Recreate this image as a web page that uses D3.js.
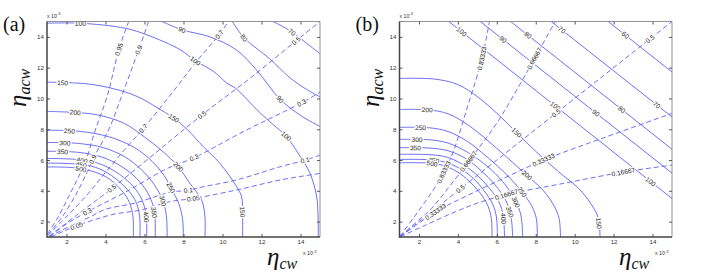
<!DOCTYPE html>
<html>
<head>
<meta charset="utf-8">
<script src="https://cdn.jsdelivr.net/npm/d3@7"></script>
<style>
  body { margin: 0; background: #fff; }
  svg { display: block; }
</style>
</head>
<body>
<svg id="chart" width="708" height="274"></svg>
<script>
// ---------- data (units of 1e-3) ----------
const xTicks = [2, 4, 6, 8, 10, 12, 14];
const yTicks = [2, 4, 6, 8, 10, 12, 14];
const panelTags = ['(a)', '(b)'];

// panel (a): solid contours
const solidA = [
  {level: 70, pts: [[12.6,15],[13.5,14.37],[14.3,13.6],[15,12.9]]},
  {level: 80, pts: [[10.5,15],[11.1,13.94],[11.8,13.2],[12.4,12.6],[13.5,11.3],[14.3,10.6],[15,10.1]]},
  {level: 90, pts: [[6.9,15],[7.92,14.46],[9.36,14.0],[10.73,13.14],[11.75,11.84],[12.95,9.95],[14.0,8.9],[15,8.18]]},
  {level: 100, pts: [[1,14.89],[2.71,14.89],[5.02,14.56],[6.13,14.13],[7.84,13.16],[8.61,12.44],[9.55,11.75],[10.23,10.99],[10.66,10.67],[11.9,9.1],[12.6,8.3],[13.26,7.55],[13.9,6.4],[14.49,5.13],[14.83,3.61],[14.9,2.3],[14.91,1]]},
  {level: 150, pts: [[1,11.06],[3.05,10.95],[4.42,10.63],[5.62,10.13],[6.64,9.41],[7.5,8.72],[8.18,8.0],[9.02,6.86],[9.87,5.78],[10.73,4.26],[10.98,3.61],[11.03,2.5],[11.03,1]]},
  {level: 200, pts: [[1,9.16],[2.3,9.1],[3.56,8.94],[4.93,8.4],[6.0,7.5],[6.9,6.6],[7.73,5.56],[8.33,4.48],[8.93,3.4],[9.1,2.3],[9.1,1]]},
  {level: 250, pts: [[1,7.94],[2.7,7.86],[4.2,7.5],[5.5,6.8],[6.4,5.9],[7.0,5.0],[7.4,4.1],[7.75,3.2],[7.95,2.2],[7.99,1]]},
  {level: 300, pts: [[1,7.14],[2.6,7.08],[3.9,6.8],[5.0,6.2],[5.9,5.3],[6.5,4.4],[6.93,3.4],[7.12,2.4],[7.16,1]]},
  {level: 350, pts: [[1,6.57],[2.6,6.5],[3.8,6.2],[4.8,5.6],[5.6,4.8],[6.15,3.9],[6.45,3.0],[6.54,2.2],[6.55,1]]},
  {level: 400, pts: [[1,6.1],[2.5,6.04],[3.6,5.8],[4.5,5.25],[5.3,4.45],[5.8,3.6],[6.05,2.7],[6.11,2.0],[6.11,1]]},
  {level: 450, pts: [[1,5.8],[2.5,5.74],[3.5,5.52],[4.3,5.0],[5.0,4.25],[5.5,3.45],[5.72,2.6],[5.77,1.9],[5.77,1]]},
  {level: 500, pts: [[1,5.55],[2.4,5.5],[3.3,5.28],[4.1,4.85],[4.7,4.2],[5.15,3.45],[5.38,2.6],[5.43,1.8],[5.43,1]]}
];

// panel (a): dashed contours
const dashedA = [
  {level: 0.95, pts: [[1.02,1.2],[1.55,2.25],[2.1,3.6],[2.65,5.0],[3.05,6.2],[3.48,7.96],[4.1,10.2],[4.68,13.16],[5.19,15]]},
  {level: 0.9, pts: [[1.05,1.15],[1.8,2.35],[2.5,3.8],[3.05,5.2],[3.35,6.05],[4.16,7.96],[4.9,10.4],[5.7,13.16],[6.21,15]]},
  {level: 0.7, pts: [[1.05,1.1],[2.1,2.45],[3.1,3.8],[4.0,5.2],[5.0,6.7],[5.94,8.05],[7.5,10.5],[8.6,12.3],[9.84,14.16],[10.3,15]]},
  {level: 0.5, pts: [[1.1,1.05],[2.5,2.4],[4.32,4.15],[6.5,6.4],[8.95,8.93],[11.5,11.4],[13.77,13.74],[15,15]]},
  {level: 0.3, pts: [[1.15,1.05],[2.0,1.85],[3.07,2.64],[5.0,3.9],[7.16,5.45],[8.54,6.15],[11.0,7.8],[14.06,9.72],[15,10.4]]},
  {level: 0.1, pts: [[1.1,1.0],[1.7,1.4],[2.5,1.9],[3.2,2.3],[4.0,2.8],[5.5,3.2],[7.3,3.9],[8.25,4.04],[9.0,4.26],[10.7,4.7],[12.95,5.56],[14.23,5.99],[15,6.32]]},
  {level: 0.05, pts: [[1.2,1.0],[1.8,1.35],[2.52,1.72],[3.5,2.15],[4.5,2.5],[5.8,2.75],[7.3,3.3],[8.5,3.5],[10.7,4.05],[12.95,4.7],[15,5.13]]}
];

// panel (a): label spots [level, x, y]
const solidLabelsA = [
  [100,2.71,14.89],[100,8.61,12.44],[100,13.26,7.55],[90,7.92,14.46],[90,12.95,9.95],
  [80,11.1,13.94],[70,13.55,14.3],[150,1.8,11.04],[150,7.5,8.72],[150,11.03,2.64],
  [200,2.45,9.12],[200,7.73,5.56],[250,2.15,7.9],[250,7.36,4.2],[300,1.92,7.12],
  [300,6.93,3.35],[350,1.8,6.55],[350,6.5,2.6],[400,6.11,2.3],[400,2.8,6.02],
  [450,2.75,5.74],[500,2.75,5.48]
];
const dashedLabelsA = [
  [0.95,4.76,13.16],[0.9,5.7,13.16],[0.9,3.35,6.05],[0.7,9.84,14.16],[0.7,5.94,8.05],
  [0.5,13.77,13.74],[0.5,8.95,8.93],[0.5,4.32,4.15],[0.3,14.06,9.72],[0.3,8.54,6.15],
  [0.3,3.07,2.64],[0.1,14.23,5.99],[0.1,8.25,4.04],[0.05,8.5,3.5],[0.05,2.52,1.72]
];

// panel (b): solid contours
const solidB = [
  {level: 60, pts: [[11.72,15],[15,11.72]]},
  {level: 70, pts: [[8.79,15],[15,8.8]]},
  {level: 80, pts: [[6.71,15],[15,6.7]]},
  {level: 90, pts: [[5.15,15],[15,5.15]]},
  {level: 100, pts: [[3.53,15],[15,3.5]]},
  {level: 150, pts: [[1,11.3],[2.8,11.26],[4.0,10.9],[5.07,10.05],[6.2,8.8],[7.97,6.6],[9.17,5.24],[10.2,4.16],[10.88,3.07],[11.22,2.21],[11.3,1]]},
  {level: 200, pts: [[1,9.28],[2.5,9.26],[3.5,9.0],[4.5,8.3],[5.5,7.3],[6.5,6.2],[7.55,5.0],[8.4,4.0],[8.95,3.0],[9.2,2.2],[9.27,1]]},
  {level: 250, pts: [[1,8.12],[2.5,8.1],[3.5,7.85],[4.5,7.2],[5.5,6.2],[6.5,5.05],[7.25,4.0],[7.8,3.0],[8.03,2.2],[8.08,1]]},
  {level: 300, pts: [[1,7.34],[2.5,7.32],[3.5,7.1],[4.5,6.5],[5.5,5.6],[6.3,4.6],[6.9,3.5],[7.2,2.6],[7.3,1.8],[7.32,1]]},
  {level: 350, pts: [[1,6.8],[2.5,6.78],[3.5,6.6],[4.4,6.1],[5.2,5.3],[5.9,4.4],[6.45,3.4],[6.7,2.5],[6.78,1.8],[6.81,1]]},
  {level: 400, pts: [[1,6.37],[2.5,6.35],[3.4,6.2],[4.2,5.75],[5.0,5.0],[5.6,4.2],[6.1,3.3],[6.33,2.4],[6.38,1.6],[6.4,1]]},
  {level: 450, pts: [[1,6.04],[2.5,6.02],[3.3,5.88],[4.1,5.45],[4.8,4.8],[5.35,4.0],[5.8,3.1],[5.98,2.3],[6.02,1.6],[6.03,1]]},
  {level: 500, pts: [[1,5.82],[2.5,5.8],[3.2,5.66],[3.95,5.25],[4.6,4.6],[5.15,3.85],[5.55,3.0],[5.72,2.2],[5.75,1.6],[5.75,1]]}
];

// panel (b): dashed contours
const dashedB = [
  {level: 0.83333, pts: [[1.02,1.05],[1.75,2.3],[2.6,3.8],[3.2,5.0],[3.75,6.5],[4.5,9.5],[5.22,12.5],[5.62,15]]},
  {level: 0.66667, pts: [[1.03,1.05],[1.9,2.0],[2.64,2.85],[3.7,4.5],[4.9,6.5],[6.0,8.4],[7.45,11.5],[9.0,15]]},
  {level: 0.5, pts: [[1,1],[15,15]]},
  {level: 0.33333, pts: [[1.05,1.03],[2.0,1.9],[2.85,2.64],[4.5,3.7],[6.5,4.9],[8.4,6.0],[11.5,7.45],[15,9.03]]},
  {level: 0.16667, pts: [[1.05,1.02],[2.3,1.75],[3.8,2.6],[5.0,3.2],[6.5,3.75],[9.5,4.5],[12.5,5.22],[15,5.67]]}
];

const solidLabelsB = [
  [100,4.19,14.34],[100,9.0,9.5],[100,13.96,4.7],[90,6.32,13.83],[90,11.09,9.06],
  [80,7.6,14.1],[80,12.42,9.28],[70,9.34,14.45],[70,14.21,9.57],[60,12.59,14.1],
  [150,6.95,7.7],[150,11.3,1.9],[200,2.42,9.27],[200,7.55,5.02],[250,2.08,8.11],
  [250,7.38,4.0],[300,1.9,7.33],[300,7.03,3.29],[350,1.82,6.79],[350,6.69,2.64],
  [400,6.35,2.2],[450,2.76,6.02],[500,2.68,5.8]
];
const dashedLabelsB = [
  [0.83333,5.25,12.6],[0.83333,3.3,5.2],[0.66667,7.92,12.6],[0.66667,4.5,5.95],
  [0.5,13.87,13.87],[0.5,9.05,9.05],[0.5,4.13,4.13],[0.33333,8.4,6.0],[0.33333,2.85,2.64],
  [0.16667,12.5,5.22],[0.16667,6.5,3.75]
];

// ---------- drawing ----------
const svg = d3.select('#chart');
const lineColor = '#5f5ff5';
const plotTop = 21.5, plotBottom = 237;
const sans = 'Liberation Sans, Arial, Helvetica, sans-serif';
const serif = 'Liberation Serif, DejaVu Serif, Times New Roman, serif';

const panels = [
  {left: 47, right: 320, solid: solidA, dashed: dashedA, sLab: solidLabelsA, dLab: dashedLabelsA},
  {left: 399.5, right: 672, solid: solidB, dashed: dashedB, sLab: solidLabelsB, dLab: dashedLabelsB}
];

panels.forEach((p, i) => drawPanel(p, i));

function drawPanel(p, i) {
  const x = d3.scaleLinear().domain([1, 15]).range([p.left, p.right]);
  const y = d3.scaleLinear().domain([1, 15]).range([plotBottom, plotTop]);
  const g = svg.append('g');

  const clipId = 'clip' + i;
  svg.append('clipPath').attr('id', clipId).append('rect')
    .attr('x', p.left).attr('y', plotTop)
    .attr('width', p.right - p.left).attr('height', plotBottom - plotTop);

  const line = d3.line()
    .x(d => x(d[0]))
    .y(d => y(d[1]))
    .curve(d3.curveCatmullRom.alpha(0.5));

  const plot = g.append('g').attr('clip-path', `url(#${clipId})`);

  // solid contours
  plot.selectAll('.solid')
    .data(p.solid)
    .enter().append('path')
    .attr('class', 'solid')
    .attr('d', d => line(d.pts))
    .attr('fill', 'none')
    .attr('stroke', lineColor)
    .attr('stroke-width', 0.9);

  // dashed contours
  plot.selectAll('.dashed')
    .data(p.dashed)
    .enter().append('path')
    .attr('class', 'dashed')
    .attr('d', d => line(d.pts))
    .attr('fill', 'none')
    .attr('stroke', lineColor)
    .attr('stroke-width', 0.9)
    .attr('stroke-dasharray', '5,3');

  // snap a label onto its contour and turn it along the local direction
  function place(lines, lab) {
    const ln = lines.find(l => l.level === lab[0]);
    const px = x(lab[1]), py = y(lab[2]);
    let best = {d: Infinity};
    for (let k = 0; k < ln.pts.length - 1; k++) {
      const ax = x(ln.pts[k][0]), ay = y(ln.pts[k][1]);
      const bx = x(ln.pts[k + 1][0]), by = y(ln.pts[k + 1][1]);
      const dx = bx - ax, dy = by - ay;
      let t = ((px - ax) * dx + (py - ay) * dy) / (dx * dx + dy * dy);
      t = Math.max(0, Math.min(1, t));
      const qx = ax + t * dx, qy = ay + t * dy;
      const dist = Math.hypot(px - qx, py - qy);
      if (dist < best.d) {
        let ang = Math.atan2(dy, dx) * 180 / Math.PI;
        if (ang > 90) ang -= 180;
        if (ang < -90) ang += 180;
        best = {d: dist, x: qx, y: qy, ang: ang, text: String(lab[0])};
      }
    }
    return best;
  }

  const labels = p.sLab.map(l => place(p.solid, l)).concat(p.dLab.map(l => place(p.dashed, l)));

  g.append('g').selectAll('text')
    .data(labels)
    .enter().append('text')
    .attr('transform', d => `translate(${d.x},${d.y}) rotate(${d.ang})`)
    .attr('text-anchor', 'middle')
    .attr('dy', '0.35em')
    .attr('font-family', sans)
    .attr('font-size', 6.6)
    .attr('fill', '#222')
    .attr('stroke', '#fff')
    .attr('stroke-width', 2.4)
    .attr('paint-order', 'stroke')
    .text(d => d.text);

  // frame
  g.append('line').attr('x1', p.left).attr('x2', p.right).attr('y1', plotTop).attr('y2', plotTop)
    .attr('stroke', '#777').attr('stroke-width', 0.8);
  g.append('line').attr('x1', p.right).attr('x2', p.right).attr('y1', plotTop).attr('y2', plotBottom)
    .attr('stroke', '#777').attr('stroke-width', 0.8);

  // axes with inward ticks
  const styleAxis = sel => {
    sel.select('.domain').remove();
    sel.selectAll('line').attr('stroke', '#555');
    sel.attr('font-family', sans).attr('font-size', 6.2);
    sel.selectAll('text').attr('fill', '#333');
  };

  g.append('g').attr('transform', `translate(0,${plotBottom})`)
    .call(d3.axisBottom(x).tickValues(xTicks).tickSize(-3).tickPadding(2.5))
    .call(styleAxis);
  g.append('g').attr('transform', `translate(${p.left},0)`)
    .call(d3.axisLeft(y).tickValues(yTicks).tickSize(-3).tickPadding(3))
    .call(styleAxis);
  g.append('g').attr('transform', `translate(0,${plotTop})`)
    .call(d3.axisTop(x).tickValues(xTicks).tickSize(-3).tickFormat(''))
    .call(styleAxis);
  g.append('g').attr('transform', `translate(${p.right},0)`)
    .call(d3.axisRight(y).tickValues(yTicks).tickSize(-3).tickFormat(''))
    .call(styleAxis);

  g.append('line').attr('x1', p.left).attr('x2', p.right).attr('y1', plotBottom).attr('y2', plotBottom)
    .attr('stroke', '#444').attr('stroke-width', 1.5);
  g.append('line').attr('x1', p.left).attr('x2', p.left).attr('y1', plotTop).attr('y2', plotBottom + 0.75)
    .attr('stroke', '#444').attr('stroke-width', 1.5);

  // x 10^-3 multipliers
  const mult = (tx, ty) => {
    const t = g.append('text').attr('x', tx).attr('y', ty)
      .attr('font-family', sans).attr('font-size', 5.2).attr('fill', '#333');
    t.append('tspan').text('x 10');
    t.append('tspan').attr('dy', -2.2).attr('font-size', 4).text('-3');
  };
  mult(p.left, 17.5);
  mult(p.right - 17, 255);

  // axis titles
  const xt = g.append('text')
    .attr('x', p.right - 53).attr('y', 265)
    .attr('font-family', serif).attr('font-style', 'italic').attr('font-size', 25).attr('fill', '#111');
  xt.append('tspan').text('η');
  xt.append('tspan').attr('font-size', 16).attr('dy', 4).text('cw');

  const yt = g.append('text')
    .attr('transform', `translate(${p.left - 21},107) rotate(-90)`)
    .attr('font-family', serif).attr('font-style', 'italic').attr('font-size', 25).attr('fill', '#111');
  yt.append('tspan').text('η');
  yt.append('tspan').attr('font-size', 16).attr('dy', 4).text('acw');

  // panel tag
  g.append('text')
    .attr('x', p.left - 44).attr('y', 31)
    .attr('font-family', serif).attr('font-size', 20).attr('fill', '#111')
    .text(panelTags[i]);
}
</script>
</body>
</html>
